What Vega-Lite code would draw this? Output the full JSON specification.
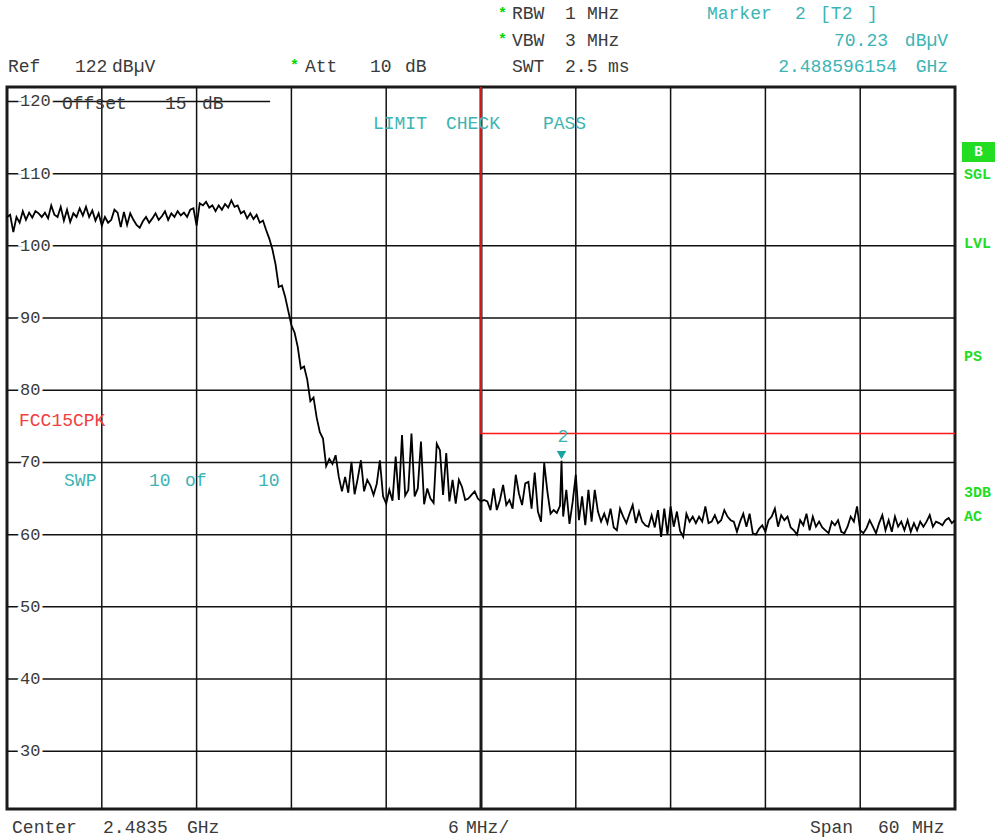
{
  "$schema": "https://vega.github.io/schema/vega-lite/v6.json",
  "width": 948,
  "height": 722,
  "autosize": {"type": "none"},
  "padding": {"left": 7, "top": 87, "right": 42, "bottom": 31},
  "background": "#ffffff",
  "config": {"view": {"stroke": "#1a1a1a", "strokeWidth": 3}},
  "datasets": {
    "vgrid": [
      {"f": 2459.5, "level": 22, "level2": 122},
      {"f": 2465.5, "level": 22, "level2": 122},
      {"f": 2471.5, "level": 22, "level2": 122},
      {"f": 2477.5, "level": 22, "level2": 122},
      {"f": 2489.5, "level": 22, "level2": 122},
      {"f": 2495.5, "level": 22, "level2": 122},
      {"f": 2501.5, "level": 22, "level2": 122},
      {"f": 2507.5, "level": 22, "level2": 122}
    ],
    "hgrid": [
      {"level": 30, "f": 2453.5, "f2": 2513.5},
      {"level": 40, "f": 2453.5, "f2": 2513.5},
      {"level": 50, "f": 2453.5, "f2": 2513.5},
      {"level": 60, "f": 2453.5, "f2": 2513.5},
      {"level": 70, "f": 2453.5, "f2": 2513.5},
      {"level": 80, "f": 2453.5, "f2": 2513.5},
      {"level": 90, "f": 2453.5, "f2": 2513.5},
      {"level": 100, "f": 2453.5, "f2": 2513.5},
      {"level": 110, "f": 2453.5, "f2": 2513.5},
      {"level": 120, "f": 2453.5, "f2": 2470.15}
    ],
    "limit": [
      {"step": 1, "f": 2483.5, "level": 122},
      {"step": 2, "f": 2483.5, "level": 74},
      {"step": 3, "f": 2513.5, "level": 74}
    ],
    "trace": [
      {"f": 2453.5, "level": 104.0}, {"f": 2453.7, "level": 104.3}, {"f": 2453.9, "level": 101.9}, {"f": 2454.1, "level": 104.0}, {"f": 2454.3, "level": 103.2},
      {"f": 2454.5, "level": 104.8}, {"f": 2454.7, "level": 103.6}, {"f": 2454.9, "level": 104.6}, {"f": 2455.1, "level": 103.9}, {"f": 2455.3, "level": 104.8},
      {"f": 2455.5, "level": 104.5}, {"f": 2455.7, "level": 104.0}, {"f": 2455.9, "level": 104.6}, {"f": 2456.1, "level": 103.8}, {"f": 2456.3, "level": 105.6},
      {"f": 2456.5, "level": 104.3}, {"f": 2456.7, "level": 104.0}, {"f": 2456.9, "level": 105.4}, {"f": 2457.1, "level": 103.5}, {"f": 2457.3, "level": 105.0},
      {"f": 2457.5, "level": 103.3}, {"f": 2457.7, "level": 104.5}, {"f": 2457.9, "level": 104.0}, {"f": 2458.1, "level": 105.2}, {"f": 2458.3, "level": 104.2},
      {"f": 2458.5, "level": 105.4}, {"f": 2458.7, "level": 104.0}, {"f": 2458.9, "level": 104.9}, {"f": 2459.1, "level": 103.5}, {"f": 2459.3, "level": 104.5},
      {"f": 2459.5, "level": 102.8}, {"f": 2459.7, "level": 104.0}, {"f": 2459.9, "level": 103.2}, {"f": 2460.1, "level": 103.6}, {"f": 2460.3, "level": 105.0},
      {"f": 2460.5, "level": 104.6}, {"f": 2460.7, "level": 102.6}, {"f": 2460.9, "level": 104.7}, {"f": 2461.1, "level": 102.9}, {"f": 2461.3, "level": 104.5},
      {"f": 2461.5, "level": 103.6}, {"f": 2461.7, "level": 102.9}, {"f": 2461.9, "level": 102.5}, {"f": 2462.1, "level": 103.4}, {"f": 2462.3, "level": 104.0},
      {"f": 2462.5, "level": 103.2}, {"f": 2462.7, "level": 103.8}, {"f": 2462.9, "level": 104.5}, {"f": 2463.1, "level": 103.6}, {"f": 2463.3, "level": 104.1},
      {"f": 2463.5, "level": 104.8}, {"f": 2463.7, "level": 103.6}, {"f": 2463.9, "level": 104.5}, {"f": 2464.1, "level": 104.0}, {"f": 2464.3, "level": 104.8},
      {"f": 2464.5, "level": 104.2}, {"f": 2464.7, "level": 104.6}, {"f": 2464.9, "level": 104.0}, {"f": 2465.1, "level": 105.0}, {"f": 2465.3, "level": 105.2},
      {"f": 2465.5, "level": 102.8}, {"f": 2465.7, "level": 105.9}, {"f": 2465.9, "level": 105.6}, {"f": 2466.1, "level": 106.1}, {"f": 2466.3, "level": 105.3},
      {"f": 2466.5, "level": 105.6}, {"f": 2466.7, "level": 104.8}, {"f": 2466.9, "level": 105.6}, {"f": 2467.1, "level": 105.0}, {"f": 2467.3, "level": 105.8},
      {"f": 2467.5, "level": 105.3}, {"f": 2467.7, "level": 106.3}, {"f": 2467.9, "level": 105.4}, {"f": 2468.1, "level": 105.6}, {"f": 2468.3, "level": 104.5},
      {"f": 2468.5, "level": 104.8}, {"f": 2468.7, "level": 103.8}, {"f": 2468.9, "level": 104.5}, {"f": 2469.1, "level": 103.7}, {"f": 2469.3, "level": 104.3},
      {"f": 2469.5, "level": 103.2}, {"f": 2469.7, "level": 103.5}, {"f": 2469.9, "level": 102.2}, {"f": 2470.1, "level": 101.0}, {"f": 2470.3, "level": 99.5},
      {"f": 2470.5, "level": 97.4}, {"f": 2470.7, "level": 94.3}, {"f": 2470.9, "level": 94.5}, {"f": 2471.1, "level": 93.0}, {"f": 2471.3, "level": 91.0},
      {"f": 2471.5, "level": 89.0}, {"f": 2471.7, "level": 88.0}, {"f": 2471.9, "level": 86.0}, {"f": 2472.1, "level": 83.0}, {"f": 2472.3, "level": 83.3},
      {"f": 2472.5, "level": 81.5}, {"f": 2472.7, "level": 78.5}, {"f": 2472.9, "level": 79.0}, {"f": 2473.1, "level": 76.2}, {"f": 2473.3, "level": 74.2},
      {"f": 2473.5, "level": 73.3}, {"f": 2473.7, "level": 69.5}, {"f": 2473.9, "level": 70.5}, {"f": 2474.1, "level": 69.8}, {"f": 2474.3, "level": 71.0},
      {"f": 2474.5, "level": 68.0}, {"f": 2474.7, "level": 66.0}, {"f": 2474.9, "level": 68.0}, {"f": 2475.1, "level": 65.8}, {"f": 2475.3, "level": 70.1},
      {"f": 2475.5, "level": 65.6}, {"f": 2475.7, "level": 67.8}, {"f": 2475.9, "level": 70.3}, {"f": 2476.1, "level": 66.0}, {"f": 2476.3, "level": 67.6},
      {"f": 2476.5, "level": 66.8}, {"f": 2476.7, "level": 65.5}, {"f": 2476.9, "level": 67.0}, {"f": 2477.1, "level": 70.3}, {"f": 2477.3, "level": 65.3},
      {"f": 2477.5, "level": 64.3}, {"f": 2477.7, "level": 66.2}, {"f": 2477.9, "level": 64.7}, {"f": 2478.1, "level": 70.8}, {"f": 2478.3, "level": 64.8},
      {"f": 2478.5, "level": 73.8}, {"f": 2478.7, "level": 65.4}, {"f": 2478.9, "level": 66.2}, {"f": 2479.1, "level": 74.0}, {"f": 2479.3, "level": 65.3},
      {"f": 2479.5, "level": 66.4}, {"f": 2479.7, "level": 72.9}, {"f": 2479.9, "level": 64.2}, {"f": 2480.1, "level": 66.4}, {"f": 2480.3, "level": 65.0},
      {"f": 2480.5, "level": 64.4}, {"f": 2480.7, "level": 72.6}, {"f": 2480.9, "level": 71.7}, {"f": 2481.1, "level": 65.5}, {"f": 2481.3, "level": 71.3},
      {"f": 2481.5, "level": 64.6}, {"f": 2481.7, "level": 67.6}, {"f": 2481.9, "level": 64.3}, {"f": 2482.1, "level": 67.6}, {"f": 2482.3, "level": 66.6},
      {"f": 2482.5, "level": 64.8}, {"f": 2482.7, "level": 65.0}, {"f": 2482.9, "level": 65.5}, {"f": 2483.1, "level": 66.0}, {"f": 2483.3, "level": 65.0},
      {"f": 2483.5, "level": 64.6}, {"f": 2483.7, "level": 64.8}, {"f": 2483.9, "level": 64.6}, {"f": 2484.1, "level": 63.4}, {"f": 2484.3, "level": 66.4},
      {"f": 2484.5, "level": 63.4}, {"f": 2484.7, "level": 64.8}, {"f": 2484.9, "level": 66.9}, {"f": 2485.1, "level": 64.1}, {"f": 2485.3, "level": 64.8},
      {"f": 2485.5, "level": 63.6}, {"f": 2485.7, "level": 68.3}, {"f": 2485.9, "level": 65.7}, {"f": 2486.1, "level": 64.1}, {"f": 2486.3, "level": 67.1},
      {"f": 2486.5, "level": 67.3}, {"f": 2486.7, "level": 63.6}, {"f": 2486.9, "level": 68.6}, {"f": 2487.1, "level": 63.2}, {"f": 2487.3, "level": 61.8},
      {"f": 2487.5, "level": 69.9}, {"f": 2487.7, "level": 66.0}, {"f": 2487.9, "level": 62.9}, {"f": 2488.1, "level": 63.4}, {"f": 2488.3, "level": 63.0},
      {"f": 2488.5, "level": 64.0}, {"f": 2488.596, "level": 70.23}, {"f": 2488.7, "level": 62.5}, {"f": 2488.9, "level": 66.2}, {"f": 2489.1, "level": 61.5},
      {"f": 2489.3, "level": 64.5}, {"f": 2489.5, "level": 68.3}, {"f": 2489.7, "level": 62.0}, {"f": 2489.9, "level": 65.3}, {"f": 2490.1, "level": 61.3},
      {"f": 2490.3, "level": 66.2}, {"f": 2490.5, "level": 61.8}, {"f": 2490.7, "level": 66.2}, {"f": 2490.9, "level": 63.2}, {"f": 2491.1, "level": 61.8},
      {"f": 2491.3, "level": 62.9}, {"f": 2491.5, "level": 61.6}, {"f": 2491.7, "level": 63.6}, {"f": 2491.9, "level": 61.0}, {"f": 2492.1, "level": 60.6},
      {"f": 2492.3, "level": 63.6}, {"f": 2492.5, "level": 62.5}, {"f": 2492.7, "level": 61.6}, {"f": 2492.9, "level": 62.9}, {"f": 2493.1, "level": 64.1},
      {"f": 2493.3, "level": 61.6}, {"f": 2493.5, "level": 63.2}, {"f": 2493.7, "level": 61.8}, {"f": 2493.9, "level": 61.3}, {"f": 2494.1, "level": 61.1},
      {"f": 2494.3, "level": 62.7}, {"f": 2494.5, "level": 61.0}, {"f": 2494.7, "level": 63.4}, {"f": 2494.9, "level": 59.7}, {"f": 2495.1, "level": 63.6},
      {"f": 2495.3, "level": 60.0}, {"f": 2495.5, "level": 63.9}, {"f": 2495.7, "level": 61.1}, {"f": 2495.9, "level": 63.2}, {"f": 2496.1, "level": 60.5},
      {"f": 2496.3, "level": 59.7}, {"f": 2496.5, "level": 62.9}, {"f": 2496.7, "level": 61.8}, {"f": 2496.9, "level": 62.5}, {"f": 2497.1, "level": 61.6},
      {"f": 2497.3, "level": 62.5}, {"f": 2497.5, "level": 61.8}, {"f": 2497.7, "level": 63.9}, {"f": 2497.9, "level": 61.6}, {"f": 2498.1, "level": 61.8},
      {"f": 2498.3, "level": 62.7}, {"f": 2498.5, "level": 61.6}, {"f": 2498.7, "level": 62.0}, {"f": 2498.9, "level": 63.4}, {"f": 2499.1, "level": 62.5},
      {"f": 2499.3, "level": 62.0}, {"f": 2499.5, "level": 61.8}, {"f": 2499.7, "level": 60.4}, {"f": 2499.9, "level": 61.8}, {"f": 2500.1, "level": 62.9},
      {"f": 2500.3, "level": 61.1}, {"f": 2500.5, "level": 62.9}, {"f": 2500.7, "level": 60.2}, {"f": 2500.9, "level": 60.0}, {"f": 2501.1, "level": 60.8},
      {"f": 2501.3, "level": 61.3}, {"f": 2501.5, "level": 60.4}, {"f": 2501.7, "level": 62.0}, {"f": 2501.9, "level": 62.5}, {"f": 2502.1, "level": 63.6},
      {"f": 2502.3, "level": 61.1}, {"f": 2502.5, "level": 62.7}, {"f": 2502.7, "level": 62.0}, {"f": 2502.9, "level": 62.5}, {"f": 2503.1, "level": 61.0},
      {"f": 2503.3, "level": 60.6}, {"f": 2503.5, "level": 60.0}, {"f": 2503.7, "level": 62.0}, {"f": 2503.9, "level": 61.3}, {"f": 2504.1, "level": 62.9},
      {"f": 2504.3, "level": 60.6}, {"f": 2504.5, "level": 62.5}, {"f": 2504.7, "level": 61.1}, {"f": 2504.9, "level": 61.8}, {"f": 2505.1, "level": 61.0},
      {"f": 2505.3, "level": 60.6}, {"f": 2505.5, "level": 60.2}, {"f": 2505.7, "level": 61.8}, {"f": 2505.9, "level": 61.3}, {"f": 2506.1, "level": 62.0},
      {"f": 2506.3, "level": 60.4}, {"f": 2506.5, "level": 60.2}, {"f": 2506.7, "level": 61.1}, {"f": 2506.9, "level": 62.5}, {"f": 2507.1, "level": 61.8},
      {"f": 2507.3, "level": 63.9}, {"f": 2507.5, "level": 60.6}, {"f": 2507.7, "level": 60.2}, {"f": 2507.9, "level": 60.9}, {"f": 2508.1, "level": 62.0},
      {"f": 2508.3, "level": 61.1}, {"f": 2508.5, "level": 60.2}, {"f": 2508.7, "level": 61.6}, {"f": 2508.9, "level": 62.7}, {"f": 2509.1, "level": 60.6},
      {"f": 2509.3, "level": 62.0}, {"f": 2509.5, "level": 60.4}, {"f": 2509.7, "level": 62.5}, {"f": 2509.9, "level": 61.1}, {"f": 2510.1, "level": 61.8},
      {"f": 2510.3, "level": 60.6}, {"f": 2510.5, "level": 62.0}, {"f": 2510.7, "level": 60.4}, {"f": 2510.9, "level": 61.6}, {"f": 2511.1, "level": 60.6},
      {"f": 2511.3, "level": 61.8}, {"f": 2511.5, "level": 61.1}, {"f": 2511.7, "level": 61.8}, {"f": 2511.9, "level": 62.7}, {"f": 2512.1, "level": 61.1},
      {"f": 2512.3, "level": 61.8}, {"f": 2512.5, "level": 61.6}, {"f": 2512.7, "level": 61.3}, {"f": 2512.9, "level": 62.0}, {"f": 2513.1, "level": 62.3},
      {"f": 2513.3, "level": 61.6}, {"f": 2513.5, "level": 62.0}
    ],
    "notes": [
      {"group": "info", "f": 2485.46, "level": 132.11, "text": "RBW"},
      {"group": "info", "f": 2488.82, "level": 132.11, "text": "1"},
      {"group": "info", "f": 2490.21, "level": 132.11, "text": "MHz"},
      {"group": "info", "f": 2485.46, "level": 128.37, "text": "VBW"},
      {"group": "info", "f": 2488.82, "level": 128.37, "text": "3"},
      {"group": "info", "f": 2490.21, "level": 128.37, "text": "MHz"},
      {"group": "info", "f": 2485.46, "level": 124.77, "text": "SWT"},
      {"group": "info", "f": 2488.82, "level": 124.77, "text": "2.5"},
      {"group": "info", "f": 2491.54, "level": 124.77, "text": "ms"},
      {"group": "info", "f": 2453.56, "level": 124.77, "text": "Ref"},
      {"group": "info", "f": 2457.80, "level": 124.77, "text": "122"},
      {"group": "info", "f": 2460.15, "level": 124.77, "text": "dBµV"},
      {"group": "info", "f": 2472.36, "level": 124.77, "text": "Att"},
      {"group": "info", "f": 2476.47, "level": 124.77, "text": "10"},
      {"group": "info", "f": 2478.69, "level": 124.77, "text": "dB"},
      {"group": "info", "f": 2453.82, "level": 19.37, "text": "Center"},
      {"group": "info", "f": 2459.58, "level": 19.37, "text": "2.4835"},
      {"group": "info", "f": 2464.89, "level": 19.37, "text": "GHz"},
      {"group": "info", "f": 2481.41, "level": 19.37, "text": "6"},
      {"group": "info", "f": 2482.55, "level": 19.37, "text": "MHz/"},
      {"group": "info", "f": 2504.32, "level": 19.37, "text": "Span"},
      {"group": "info", "f": 2508.63, "level": 19.37, "text": "60"},
      {"group": "info", "f": 2510.78, "level": 19.37, "text": "MHz"},
      {"group": "info", "f": 2456.98, "level": 119.7, "text": "Offset"},
      {"group": "info", "f": 2463.5, "level": 119.7, "text": "15"},
      {"group": "info", "f": 2465.84, "level": 119.7, "text": "dB"},
      {"group": "star", "f": 2484.58, "level": 132.3, "text": "*"},
      {"group": "star", "f": 2484.58, "level": 128.6, "text": "*"},
      {"group": "star", "f": 2471.41, "level": 125.0, "text": "*"},
      {"group": "marker", "f": 2497.80, "level": 132.11, "text": "Marker"},
      {"group": "marker", "f": 2503.38, "level": 132.11, "text": "2"},
      {"group": "marker", "f": 2504.96, "level": 132.11, "text": "[T2"},
      {"group": "marker", "f": 2507.93, "level": 132.11, "text": "]"},
      {"group": "marker", "f": 2476.66, "level": 116.88, "text": "LIMIT"},
      {"group": "marker", "f": 2481.28, "level": 116.88, "text": "CHECK"},
      {"group": "marker", "f": 2487.42, "level": 116.88, "text": "PASS"},
      {"group": "marker", "f": 2457.11, "level": 67.43, "text": "SWP"},
      {"group": "marker", "f": 2462.49, "level": 67.43, "text": "10"},
      {"group": "marker", "f": 2464.77, "level": 67.43, "text": "of"},
      {"group": "marker", "f": 2469.39, "level": 67.43, "text": "10"},
      {"group": "markerRight", "f": 2509.26, "level": 128.37, "text": "70.23"},
      {"group": "markerRight", "f": 2513.06, "level": 128.37, "text": "dBµV"},
      {"group": "markerRight", "f": 2509.83, "level": 124.77, "text": "2.488596154"},
      {"group": "markerRight", "f": 2513.06, "level": 124.77, "text": "GHz"},
      {"group": "markerLabel", "f": 2488.69, "level": 73.52, "text": "2"},
      {"group": "limit", "f": 2454.26, "level": 75.74, "text": "FCC15CPK"},
      {"group": "status", "f": 2514.07, "level": 109.95, "text": "SGL"},
      {"group": "status", "f": 2514.07, "level": 100.39, "text": "LVL"},
      {"group": "status", "f": 2514.07, "level": 84.74, "text": "PS"},
      {"group": "status", "f": 2514.07, "level": 65.9, "text": "3DB"},
      {"group": "status", "f": 2514.07, "level": 62.58, "text": "AC"},
      {"group": "badge", "f": 2514.98, "level": 113.0, "text": "B"}
    ]
  },
  "encoding": {
    "x": {"field": "f", "type": "quantitative", "scale": {"domain": [2453.5, 2513.5], "nice": false, "zero": false}, "axis": null},
    "y": {"field": "level", "type": "quantitative", "scale": {"domain": [22, 122], "nice": false, "zero": false}, "axis": null}
  },
  "layer": [
    {
      "data": {"name": "vgrid"},
      "mark": {"type": "rule", "color": "#111111", "strokeWidth": 1.5},
      "encoding": {"y2": {"field": "level2"}}
    },
    {
      "data": {"name": "hgrid"},
      "mark": {"type": "rule", "color": "#111111", "strokeWidth": 1.5},
      "encoding": {"x2": {"field": "f2"}}
    },
    {
      "data": {"values": [{"f": 2483.5, "level": 22, "level2": 122}]},
      "mark": {"type": "rule", "color": "#1a1a1a", "strokeWidth": 3},
      "encoding": {"y2": {"field": "level2"}}
    },
    {
      "data": {"name": "limit"},
      "mark": {"type": "line", "color": "#ff1a1a", "strokeWidth": 1.6},
      "encoding": {"order": {"field": "step", "type": "quantitative"}}
    },
    {
      "data": {"name": "trace"},
      "mark": {"type": "line", "color": "#000000", "strokeWidth": 1.8}
    },
    {
      "data": {"values": [{"f": 2488.596, "level": 71.0}]},
      "mark": {"type": "point", "shape": "triangle-down", "filled": true, "size": 90, "color": "#1aa3a3", "opacity": 1}
    },
    {
      "data": {"name": "hgrid"},
      "mark": {"type": "text", "align": "left", "baseline": "middle", "dx": 13, "font": "Liberation Mono", "fontSize": 17, "color": "#ffffff", "stroke": "#ffffff", "strokeWidth": 6},
      "encoding": {"text": {"field": "level", "type": "quantitative"}}
    },
    {
      "data": {"name": "hgrid"},
      "mark": {"type": "text", "align": "left", "baseline": "middle", "dx": 13, "font": "Liberation Mono", "fontSize": 17, "color": "#3a3a3a"},
      "encoding": {"text": {"field": "level", "type": "quantitative"}}
    },
    {
      "data": {"name": "notes"},
      "transform": [{"filter": "datum.group === 'info'"}],
      "mark": {"type": "text", "align": "left", "baseline": "middle", "font": "Liberation Mono", "fontSize": 18, "color": "#3a3a3a"},
      "encoding": {"text": {"field": "text"}}
    },
    {
      "data": {"name": "notes"},
      "transform": [{"filter": "datum.group === 'star'"}],
      "mark": {"type": "text", "align": "left", "baseline": "middle", "font": "Liberation Mono", "fontSize": 15, "fontWeight": "bold", "color": "#00d800"},
      "encoding": {"text": {"field": "text"}}
    },
    {
      "data": {"name": "notes"},
      "transform": [{"filter": "datum.group === 'marker'"}],
      "mark": {"type": "text", "align": "left", "baseline": "middle", "font": "Liberation Mono", "fontSize": 18, "color": "#3cb4b4"},
      "encoding": {"text": {"field": "text"}}
    },
    {
      "data": {"name": "notes"},
      "transform": [{"filter": "datum.group === 'markerRight'"}],
      "mark": {"type": "text", "align": "right", "baseline": "middle", "font": "Liberation Mono", "fontSize": 18, "color": "#3cb4b4"},
      "encoding": {"text": {"field": "text"}}
    },
    {
      "data": {"name": "notes"},
      "transform": [{"filter": "datum.group === 'markerLabel'"}],
      "mark": {"type": "text", "align": "center", "baseline": "middle", "font": "Liberation Mono", "fontSize": 18, "color": "#3cb4b4"},
      "encoding": {"text": {"field": "text"}}
    },
    {
      "data": {"name": "notes"},
      "transform": [{"filter": "datum.group === 'limit'"}],
      "mark": {"type": "text", "align": "left", "baseline": "middle", "font": "Liberation Mono", "fontSize": 18, "color": "#f04040"},
      "encoding": {"text": {"field": "text"}}
    },
    {
      "data": {"values": [{"f": 2513.94, "f2": 2516.03, "level": 114.38, "level2": 111.61}]},
      "mark": {"type": "rect", "color": "#22dd22"},
      "encoding": {"x2": {"field": "f2"}, "y2": {"field": "level2"}}
    },
    {
      "data": {"name": "notes"},
      "transform": [{"filter": "datum.group === 'status'"}],
      "mark": {"type": "text", "align": "left", "baseline": "middle", "font": "Liberation Mono", "fontSize": 15, "fontWeight": "bold", "color": "#22dd22"},
      "encoding": {"text": {"field": "text"}}
    },
    {
      "data": {"name": "notes"},
      "transform": [{"filter": "datum.group === 'badge'"}],
      "mark": {"type": "text", "align": "center", "baseline": "middle", "font": "Liberation Mono", "fontSize": 14, "fontWeight": "bold", "color": "#ffffff"},
      "encoding": {"text": {"field": "text"}}
    }
  ]
}
